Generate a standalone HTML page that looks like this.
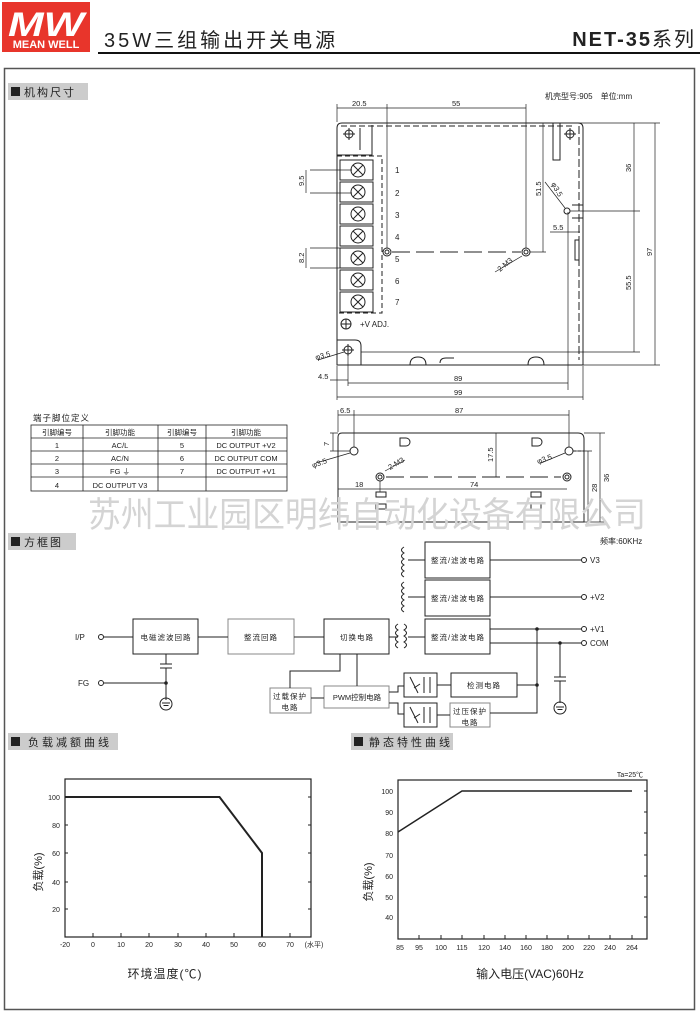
<!DOCTYPE html>
<html><head><meta charset="utf-8"><style>
html,body{margin:0;padding:0;background:#fff}
svg{display:block}
text{font-family:"Liberation Sans","Noto Sans CJK SC",sans-serif;fill:#222}
.s{font-size:8px}
.cj{font-size:8px;letter-spacing:1px}
</style></head><body>
<svg width="700" height="1014" viewBox="0 0 700 1014" xmlns="http://www.w3.org/2000/svg">
<!-- header -->
<rect x="2" y="2" width="88" height="50" fill="#e8352b"/>
<text x="46" y="36" text-anchor="middle" font-size="34" font-style="italic" font-weight="bold" style="fill:#fff" textLength="76" lengthAdjust="spacingAndGlyphs">MW</text>
<rect x="6" y="38" width="80" height="12" fill="#e8352b"/>
<text x="46" y="48" text-anchor="middle" font-size="11" font-weight="bold" style="fill:#fff">MEAN WELL</text>
<text x="104" y="47" font-size="20" letter-spacing="3">35W三组输出开关电源</text>
<line x1="98" y1="53" x2="700" y2="53" stroke="#111" stroke-width="2"/>
<text x="696" y="46" text-anchor="end" font-size="20" font-weight="bold" letter-spacing="2">NET-35<tspan font-weight="normal">系列</tspan></text>
<!-- frame -->
<rect x="4.5" y="68.5" width="690" height="941" fill="none" stroke="#555" stroke-width="1.5"/>
<!-- section labels -->
<g font-size="11">
<rect x="8" y="83" width="80" height="17" fill="#ccc"/><rect x="11" y="87" width="9" height="9" fill="#222"/><text x="24" y="96" letter-spacing="2">机构尺寸</text>
<rect x="8" y="533" width="68" height="17" fill="#ccc"/><rect x="11" y="537" width="9" height="9" fill="#222"/><text x="24" y="546" letter-spacing="2">方框图</text>
<rect x="8" y="733" width="110" height="17" fill="#ccc"/><rect x="11" y="737" width="9" height="9" fill="#222"/><text x="28" y="746" letter-spacing="3">负载减额曲线</text>
<rect x="351" y="733" width="102" height="17" fill="#ccc"/><rect x="354" y="737" width="9" height="9" fill="#222"/><text x="369" y="746" letter-spacing="3">静态特性曲线</text>
</g>
<text x="545" y="99" class="s">机壳型号:905　单位:mm</text>

<!-- TOP VIEW -->
<g stroke="#222" fill="none" stroke-width="1">
<path d="M337 365 V128 Q337 123 342 123 H578 Q583 123 583 128 V365 Z"/>
<path d="M341 126 H575" stroke-dasharray="6 3"/>
<path d="M579 126 V360" stroke-dasharray="8 3"/>
<rect x="337" y="156" width="45" height="157" stroke-dasharray="5 3"/>
<rect x="553" y="123" width="7" height="37"/>
<path d="M337 155 H372 V125"/>
<path d="M360 128 V150"/>
<path d="M337 340 H355 Q361 340 361 346 V365"/>
<path d="M572 205 H583 M572 218 H583"/>
<rect x="575" y="240" width="4" height="20"/>
</g>
<g stroke="#222" fill="none">
<circle cx="349" cy="134" r="4"/><path d="M349 128V140M343 134H355"/>
<circle cx="570" cy="134" r="4"/><path d="M570 128V140M564 134H576"/>
<circle cx="567" cy="211" r="3"/>
<circle cx="348" cy="350" r="4"/><path d="M348 344V356M342 350H354"/>
<circle cx="387" cy="252" r="4"/><circle cx="387" cy="252" r="2"/>
<circle cx="526" cy="252" r="4"/><circle cx="526" cy="252" r="2"/>
<path d="M392 252 H521" stroke-dasharray="18 6"/>
<circle cx="346" cy="324" r="5"/><path d="M346 319V329M341 324H351"/>
<path d="M410 365 q0 -8 8 -8 q8 0 8 8 M440 363 q0 -5 6 -5 h8 M528 365 q0 -8 8 -8 q8 0 8 8"/>
</g>
<g stroke="#222" fill="none">
<g id="t"><rect x="340" y="160" width="33" height="20"/><circle cx="358" cy="170" r="7"/><path d="M353 165l10 10M363 165l-10 10"/></g>
<use href="#t" y="22"/><use href="#t" y="44"/><use href="#t" y="66"/><use href="#t" y="88"/><use href="#t" y="110"/><use href="#t" y="132"/>
</g>
<g class="s" font-size="8">
<text x="395" y="173">1</text><text x="395" y="196">2</text><text x="395" y="218">3</text><text x="395" y="240">4</text><text x="395" y="262">5</text><text x="395" y="284">6</text><text x="395" y="305">7</text>
<text x="360" y="327">+V ADJ.</text>
</g>
<!-- dims top -->
<g stroke="#222" stroke-width="0.7" fill="none">
<path d="M337 104V122M387 104V248M526 104V248M337 108H526"/>
<path d="M310 170H352M310 193H352M306 170V193M310 248H345M310 268H345M306 248V268"/>
<path d="M560 123H660M543 123V252M530 252H546"/>
<path d="M570 211H640M634 123V211M634 211V352M361 352H640M583 365H660M655 123V365"/>
<path d="M337 366V400M348 355V386M568 212V390M583 366V400M330 380H348M348 383H568M337 397H583"/>
<path d="M550 232H580M545 182L565 208M495 272L522 256"/>
<path d="M318 360L344 352"/>
</g>
<g font-size="7.5">
<text x="352" y="106">20.5</text><text x="452" y="106">55</text>
<text x="304" y="186" transform="rotate(-90 304 186)">9.5</text>
<text x="304" y="263" transform="rotate(-90 304 263)">8.2</text>
<text x="541" y="196" transform="rotate(-90 541 196)">51.5</text>
<text x="631" y="172" transform="rotate(-90 631 172)">36</text>
<text x="631" y="290" transform="rotate(-90 631 290)">55.5</text>
<text x="652" y="256" transform="rotate(-90 652 256)">97</text>
<text x="553" y="230">5.5</text>
<text x="551" y="184" transform="rotate(60 551 184)">φ3.5</text>
<text x="500" y="272" transform="rotate(-40 500 272)">2-M3</text>
<text x="316" y="360" transform="rotate(-15 316 360)">φ3.5</text>
<text x="318" y="379">4.5</text><text x="454" y="381">89</text><text x="454" y="395">99</text>
</g>

<!-- table -->
<text x="33" y="421" font-size="8.5" letter-spacing="1">端子脚位定义</text>
<g stroke="#222" fill="none" stroke-width="0.8">
<rect x="31" y="425" width="256" height="66"/>
<path d="M31 438H287M31 451H287M31 464H287M31 477H287M83 425V491M158 425V491M206 425V491"/>
</g>
<g font-size="7.5" text-anchor="middle">
<text x="57" y="435">引脚编号</text><text x="120" y="435">引脚功能</text><text x="182" y="435">引脚编号</text><text x="246" y="435">引脚功能</text>
<text x="57" y="448">1</text><text x="120" y="448">AC/L</text><text x="182" y="448">5</text><text x="246" y="448">DC OUTPUT +V2</text>
<text x="57" y="461">2</text><text x="120" y="461">AC/N</text><text x="182" y="461">6</text><text x="246" y="461">DC OUTPUT COM</text>
<text x="57" y="474">3</text><text x="120" y="474">FG ⏚</text><text x="182" y="474">7</text><text x="246" y="474">DC OUTPUT +V1</text>
<text x="57" y="488">4</text><text x="120" y="488">DC OUTPUT V3</text>
</g>

<!-- side view -->
<g stroke="#222" fill="none">
<path d="M338 522V437Q338 433 342 433H578Q584 433 584 439V522Z"/>
<circle cx="354" cy="451" r="4"/><circle cx="569" cy="451" r="4"/>
<circle cx="380" cy="477" r="4"/><circle cx="380" cy="477" r="2"/>
<circle cx="567" cy="477" r="4"/><circle cx="567" cy="477" r="2"/>
<path d="M386 477H561" stroke-dasharray="18 6"/>
<path d="M400 438h6a4 4 0 0 1 0 8h-6z M532 438h6a4 4 0 0 1 0 8h-6z"/>
<rect x="376" y="492" width="10" height="5"/><rect x="376" y="504" width="10" height="5"/>
<rect x="531" y="492" width="10" height="5"/><rect x="531" y="504" width="10" height="5"/>
<path d="M573 451H584" stroke-dasharray="3 2"/>
</g>
<g stroke="#222" stroke-width="0.7" fill="none">
<path d="M338 410V432M354 410V447M569 410V447M338 415H569M330 433H338M330 451H350M333 433V451"/>
<path d="M496 433V477M584 433H605M573 451H592M588 451V522M600 433V522M584 522H605"/>
<path d="M338 489H567M380 481V492M316 463L350 453M541 463L565 453M385 471L405 460"/>
</g>
<g font-size="7.5">
<text x="340" y="413">6.5</text><text x="455" y="413">87</text>
<text x="329" y="446" transform="rotate(-90 329 446)">7</text>
<text x="493" y="462" transform="rotate(-90 493 462)">17.5</text>
<text x="597" y="492" transform="rotate(-90 597 492)">28</text>
<text x="609" y="482" transform="rotate(-90 609 482)">36</text>
<text x="355" y="487">18</text><text x="470" y="487">74</text>
<text x="313" y="468" transform="rotate(-20 313 468)">φ3.5</text>
<text x="538" y="464" transform="rotate(-20 538 464)">φ3.5</text>
<text x="390" y="470" transform="rotate(-30 390 470)">2-M3</text>
</g>
<text x="88" y="527" font-size="35" style="fill:#d4d4d4" textLength="558" lengthAdjust="spacingAndGlyphs">苏州工业园区明纬自动化设备有限公司</text>

<!-- block diagram -->
<text x="600" y="544" font-size="8">频率:60KHz</text>
<g stroke="#222" fill="none">
<rect x="133" y="619" width="65" height="35"/>
<rect x="228" y="619" width="66" height="35" stroke="#888"/>
<rect x="324" y="619" width="65" height="35"/>
<rect x="425" y="542" width="65" height="36"/>
<rect x="425" y="580" width="65" height="36"/>
<rect x="425" y="619" width="65" height="35"/>
<rect x="451" y="673" width="66" height="24"/>
<rect x="450" y="703" width="40" height="24" stroke="#888"/>
<rect x="404" y="673" width="33" height="24"/>
<rect x="404" y="703" width="33" height="24"/>
<rect x="324" y="686" width="65" height="22" stroke="#888"/>
<rect x="270" y="688" width="41" height="25" stroke="#888"/>
<circle cx="101" cy="637" r="2.5"/><circle cx="101" cy="683" r="2.5"/>
<path d="M104 637H133M198 637H228M294 637H324M104 683H166"/>
<path d="M166 654V664M160 664H172M160 668H172M166 668V700"/>
<circle cx="166" cy="704" r="6"/><path d="M162 703H170M163.5 705.5H168.5"/>
<path d="M490 560H582M490 597H582M490 629H582M490 643H582"/>
<circle cx="584" cy="560" r="2.5"/><circle cx="584" cy="597" r="2.5"/><circle cx="584" cy="629" r="2.5"/><circle cx="584" cy="643" r="2.5"/>
<path d="M537 629V713H490M537 685H517M451 685H437M450 715H437"/>
<path d="M560 643V677M554 677H566M554 681H566M560 681V703"/>
<circle cx="560" cy="708" r="6"/><path d="M556 707H564M557.5 709.5H562.5"/>
<path d="M389 637H398M340 654V671H290V688M357 686V654M311 698H324M389 692H398V686H404M389 703H398V714H404"/>
<path d="M404 547q-5 3 0 6q-5 3 0 6q-5 3 0 6q-5 3 0 6q-5 3 0 6 M404 582q-5 3 0 6q-5 3 0 6q-5 3 0 6q-5 3 0 6q-5 3 0 6 M398 624q-5 3 0 6q-5 3 0 6q-5 3 0 6q-5 3 0 6 M404 624q5 3 0 6q5 3 0 6q5 3 0 6q5 3 0 6 M408 560H425M408 597H425M408 637H425"/>
<path d="M410 677L418 693M424 677V693M430 677V693M414 688l6 -4"/>
<path d="M410 707L418 723M424 707V723M430 707V723M414 718l6 -4"/>
</g>
<circle cx="537" cy="629" r="1.8" fill="#222"/><circle cx="560" cy="643" r="1.8" fill="#222"/><circle cx="537" cy="685" r="1.8" fill="#222"/><circle cx="166" cy="683" r="1.8" fill="#222"/>
<g font-size="8">
<text x="75" y="640">I/P</text><text x="78" y="686">FG</text>
<text x="590" y="563">V3</text><text x="590" y="600">+V2</text><text x="590" y="632">+V1</text><text x="590" y="646">COM</text>
</g>
<g font-size="7.5" text-anchor="middle" letter-spacing="1">
<text x="166" y="640">电磁滤波回路</text><text x="261" y="640">整流回路</text><text x="357" y="640">切换电路</text>
<text x="458" y="563">整流/滤波电路</text><text x="458" y="601">整流/滤波电路</text><text x="458" y="640">整流/滤波电路</text>
<text x="484" y="688">检测电路</text><text x="357" y="700" letter-spacing="0">PWM控制电路</text>
<text x="290" y="699">过载保护</text><text x="290" y="710">电路</text>
<text x="470" y="714">过压保护</text><text x="470" y="725">电路</text>
</g>

<!-- left chart -->
<g stroke="#222" fill="none">
<rect x="65" y="779" width="246" height="158" stroke-width="1.2"/>
<path d="M65 797H219.5L262 853V937" stroke-width="2"/>
<path d="M93 937v-4M121 937v-4M149 937v-4M178 937v-4M206 937v-4M234 937v-4M262 937v-4M290 937v-4M65 825h3M65 853h3M65 882h3M65 909h3M311 797h-3M311 825h-3M311 853h-3M311 882h-3M311 909h-3"/>
</g>
<g font-size="7" text-anchor="middle">
<text x="54" y="800">100</text><text x="56" y="828">80</text><text x="56" y="856">60</text><text x="56" y="885">40</text><text x="56" y="912">20</text>
<text x="65" y="947">-20</text><text x="93" y="947">0</text><text x="121" y="947">10</text><text x="149" y="947">20</text><text x="178" y="947">30</text><text x="206" y="947">40</text><text x="234" y="947">50</text><text x="262" y="947">60</text><text x="290" y="947">70</text><text x="314" y="947">(水平)</text>
</g>
<text x="165" y="978" font-size="12" text-anchor="middle" letter-spacing="1">环境温度(℃)</text>
<text x="42" y="872" font-size="11" text-anchor="middle" transform="rotate(-90 42 872)">负载(%)</text>

<!-- right chart -->
<g stroke="#222" fill="none">
<rect x="398" y="780" width="249" height="159" stroke-width="1.2"/>
<path d="M398 832L462 791H632" stroke-width="1.5"/>
<path d="M419 939v-4M441 939v-4M462 939v-4M484 939v-4M505 939v-4M526 939v-4M547 939v-4M568 939v-4M589 939v-4M610 939v-4M632 939v-4M647 791h-3M647 812h-3M647 833h-3M647 855h-3M647 876h-3M647 897h-3M647 917h-3"/>
</g>
<g font-size="7" text-anchor="end">
<text x="393" y="794">100</text><text x="393" y="815">90</text><text x="393" y="836">80</text><text x="393" y="858">70</text><text x="393" y="879">60</text><text x="393" y="900">50</text><text x="393" y="920">40</text>
</g>
<g font-size="7" text-anchor="middle">
<text x="400" y="950">85</text><text x="419" y="950">95</text><text x="441" y="950">100</text><text x="462" y="950">115</text><text x="484" y="950">120</text><text x="505" y="950">140</text><text x="526" y="950">160</text><text x="547" y="950">180</text><text x="568" y="950">200</text><text x="589" y="950">220</text><text x="610" y="950">240</text><text x="632" y="950">264</text>
</g>
<text x="630" y="777" font-size="7" text-anchor="middle">Ta=25℃</text>
<text x="530" y="978" font-size="12" text-anchor="middle">输入电压(VAC)60Hz</text>
<text x="372" y="882" font-size="11" text-anchor="middle" transform="rotate(-90 372 882)">负载(%)</text>
</svg>
</body></html>
